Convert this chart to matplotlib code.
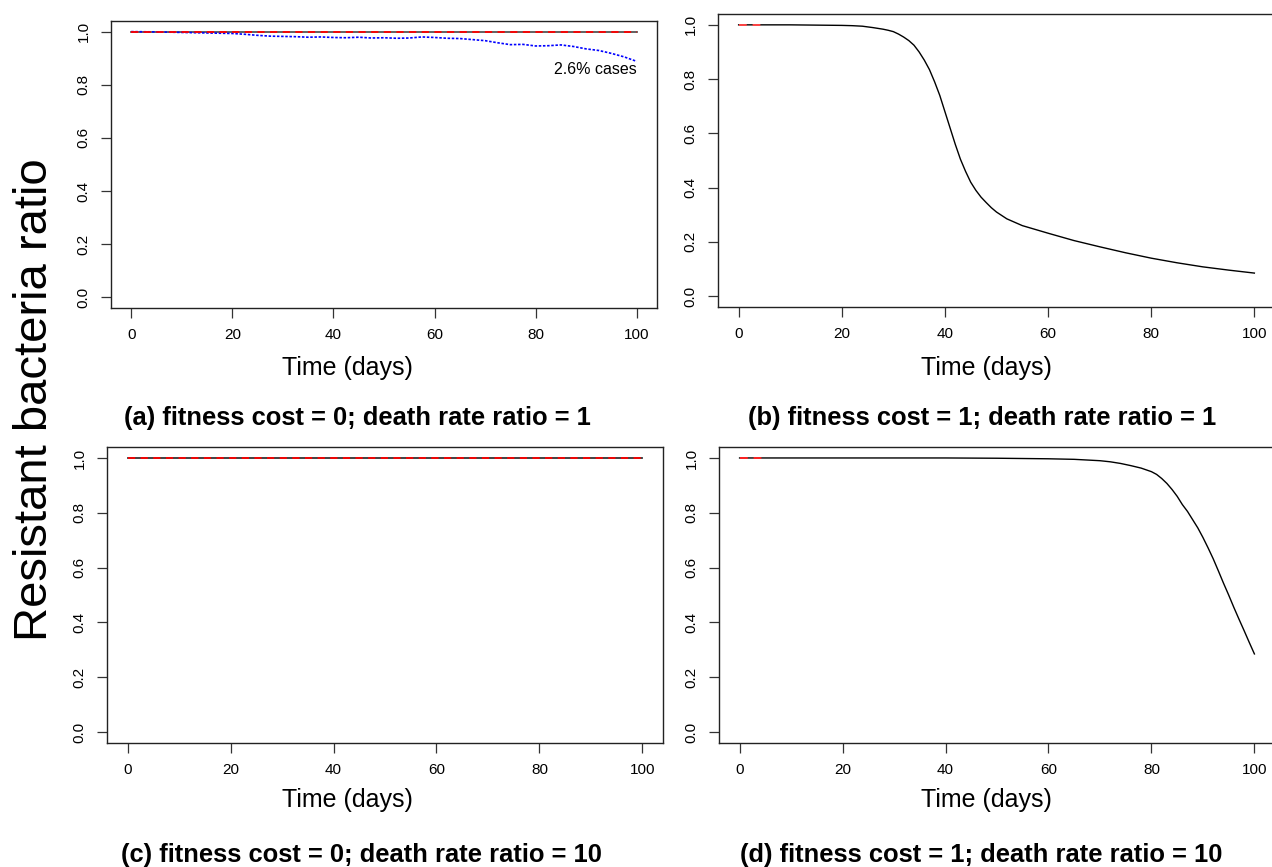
import matplotlib
matplotlib.use("Agg")
import matplotlib.pyplot as plt

plt.rcParams['font.family'] = ['Liberation Sans', 'DejaVu Sans']

# ---------------- data ----------------
x_ticks = [0, 20, 40, 60, 80, 100]
y_ticks = [0.0, 0.2, 0.4, 0.6, 0.8, 1.0]
y_ticklabels = ["0.0", "0.2", "0.4", "0.6", "0.8", "1.0"]

# panel (a)
a_days = [0, 100]
a_det = [1.0, 1.0]
a_red = [1.0, 1.0]
a_blue_days = [0, 5, 10, 15, 20, 22.5, 25, 27.5, 30, 32.5, 35, 37.5, 40, 42.5, 45,
               47.5, 50, 52.5, 55, 57.5, 60, 62.5, 65, 67.5, 70, 72.5, 75, 77.5, 80,
               82.5, 85, 87.5, 90, 92.5, 95, 97.5, 100]
a_blue = [1.0, 0.999, 0.997, 0.995, 0.993, 0.99, 0.986, 0.983, 0.982, 0.981, 0.979,
          0.98, 0.978, 0.977, 0.979, 0.976, 0.977, 0.975, 0.976, 0.98, 0.978, 0.975,
          0.974, 0.97, 0.966, 0.958, 0.951, 0.952, 0.946, 0.947, 0.95, 0.944, 0.935,
          0.929, 0.918, 0.905, 0.888]
a_note = "2.6% cases"

# panel (b)
b_days = [0, 5, 10, 15, 20, 22, 24, 26, 28, 29, 30, 31, 32, 33, 34, 35, 36, 37, 38,
          39, 40, 41, 42, 43, 44, 45, 46, 47, 48, 49, 50, 52, 55, 60, 65, 70, 75, 80,
          85, 90, 95, 100]
b_vals = [1.0, 1.0, 1.0, 0.999, 0.998, 0.997, 0.995, 0.99, 0.984, 0.98, 0.975, 0.966,
          0.955, 0.942, 0.925, 0.9, 0.87, 0.835, 0.79, 0.74, 0.68, 0.62, 0.56, 0.505,
          0.46, 0.42, 0.39, 0.365, 0.345, 0.326, 0.31, 0.285, 0.26, 0.232, 0.205,
          0.182, 0.16, 0.14, 0.123, 0.108, 0.096, 0.085]
b_red_days = [0, 5]
b_red = [1.0, 1.0]

# panel (c)
c_days = [0, 100]
c_det = [1.0, 1.0]
c_red = [1.0, 1.0]

# panel (d)
d_days = [0, 10, 20, 30, 40, 50, 55, 60, 65, 70, 72, 74, 76, 78, 80, 81, 82, 83, 84,
          85, 86, 87, 88, 89, 90, 91, 92, 93, 94, 95, 96, 97, 98, 99, 100]
d_vals = [1.0, 1.0, 1.0, 1.0, 1.0, 0.999, 0.998, 0.997, 0.995, 0.99, 0.986, 0.98,
          0.972, 0.963, 0.95, 0.94, 0.925, 0.907, 0.885, 0.86, 0.83, 0.805, 0.775,
          0.745, 0.71, 0.672, 0.632, 0.588, 0.543, 0.5, 0.455, 0.412, 0.37, 0.327,
          0.285]
d_red_days = [0, 5]
d_red = [1.0, 1.0]

titles = ["(a) fitness cost = 0; death rate ratio = 1",
          "(b) fitness cost = 1; death rate ratio = 1",
          "(c) fitness cost = 0; death rate ratio = 10",
          "(d) fitness cost = 1; death rate ratio = 10"]
xlabel = "Time (days)"
ylabel = "Resistant bacteria ratio"

# ---------------- layout ----------------
W, H = 1272, 867
fig = plt.figure(figsize=(W / 100, H / 100), dpi=100)


def add_ax(left, right, top, bottom):
    return fig.add_axes([left / W, 1 - bottom / H, (right - left) / W, (bottom - top) / H])


axA = add_ax(111, 657, 21, 308)
axB = add_ax(718, 1275, 14, 307)
axC = add_ax(107, 663, 447, 743)
axD = add_ax(719, 1275, 447, 743)

for ax in (axA, axB, axC, axD):
    ax.set_xlim(-4, 104)
    ax.set_ylim(-0.04, 1.04)
    ax.set_xticks(x_ticks)
    ax.set_xticklabels([str(t) for t in x_ticks])
    ax.set_yticks(y_ticks)
    ax.set_yticklabels(y_ticklabels, rotation=90, va='center')
    ax.tick_params(length=7.5, width=0.9, labelsize=11, pad=7, color='#333333')
    for s in ax.spines.values():
        s.set_linewidth(1.0)
        s.set_color('#222222')

red_dash = dict(color='red', lw=1.3, linestyle=(0, (4, 3)))

# (a)
axA.plot(a_days, a_det, color='#555555', lw=1.3)
axA.plot(a_blue_days, a_blue, color='blue', lw=1.2, linestyle=(0, (1.5, 1)))
axA.plot(a_days, a_red, **red_dash)
axA.text(100, 0.857, a_note, ha='right', va='center', fontsize=11.5)

# (b)
axB.plot(b_days, b_vals, color='black', lw=1.0)
axB.plot(b_red_days, b_red, color='#ff4444', lw=1.4, linestyle=(0, (4, 3)))

# (c)
axC.plot(c_days, c_det, color='#333333', lw=1.3)
axC.plot(c_days, c_red, **red_dash)

# (d)
axD.plot(d_days, d_vals, color='black', lw=1.0)
axD.plot(d_red_days, d_red, color='#ff2222', lw=1.4, linestyle=(0, (4, 3)))

# axis labels and titles as figure text
fig.text(347 / W, 1 - 368 / H, xlabel, ha='center', va='center', fontsize=18)
fig.text(986 / W, 1 - 368 / H, xlabel, ha='center', va='center', fontsize=18)
fig.text(347 / W, 1 - 800 / H, xlabel, ha='center', va='center', fontsize=18)
fig.text(986 / W, 1 - 800 / H, xlabel, ha='center', va='center', fontsize=18)

fig.text(357 / W, 1 - 418 / H, titles[0], ha='center', va='center', fontsize=18.4, fontweight='bold')
fig.text(982 / W, 1 - 418 / H, titles[1], ha='center', va='center', fontsize=18.4, fontweight='bold')
fig.text(361 / W, 1 - 855 / H, titles[2], ha='center', va='center', fontsize=18.4, fontweight='bold')
fig.text(981 / W, 1 - 855 / H, titles[3], ha='center', va='center', fontsize=18.4, fontweight='bold')

fig.text(35 / W, 1 - 400 / H, ylabel, ha='center', va='center', rotation=90, fontsize=34)

fig.savefig("out.png", dpi=100)
